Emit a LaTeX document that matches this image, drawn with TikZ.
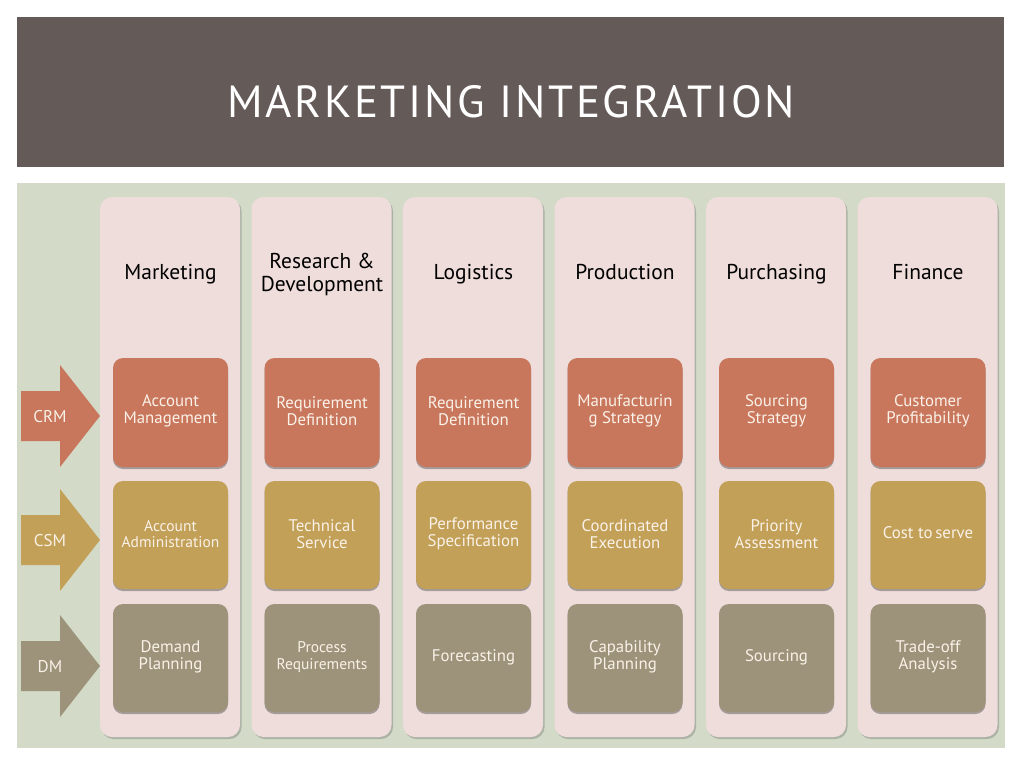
\documentclass[tikz,border=0pt]{standalone}
\usepackage{fontspec}
\setmainfont{PT Sans}
\newfontfamily\titlefont[LetterSpace=6]{PT Sans}
\usetikzlibrary{shadows}
\definecolor{hdr}{HTML}{645A58}
\definecolor{panel}{HTML}{D3DBC8}
\definecolor{colpink}{HTML}{EEDDDB}
\definecolor{rred}{HTML}{C9775C}
\definecolor{rgold}{HTML}{C2A057}
\definecolor{rgrey}{HTML}{9C937A}
\definecolor{btext}{HTML}{FAF1E8}
\tikzset{
  colbox/.style={fill=colpink, rounded corners=12pt,
    drop shadow={shadow xshift=1.5pt, shadow yshift=-2pt, opacity=0.35, fill=black!60}},
  cellbox/.style={rounded corners=10pt,
    drop shadow={shadow xshift=0pt, shadow yshift=-2pt, opacity=0.45, fill=black!70}},
  celltext/.style={text=btext, align=center, font=\fontsize{16.8}{17}\selectfont, inner sep=0pt},
  smalltext/.style={celltext, font=\fontsize{15.5}{16.5}\selectfont},
  headtext/.style={text=black, align=center, font=\fontsize{21.5}{23}\selectfont, inner sep=0pt},
  onehead/.style={headtext, text height=15pt, text depth=5pt},
  onecell/.style={celltext, text height=12pt, text depth=4pt},
  arrowtext/.style={text=btext, font=\fontsize{17}{18}\selectfont, inner sep=0pt, text height=12pt, text depth=0pt},
}
\begin{document}
\begin{tikzpicture}[x=1pt,y=-1pt]
\useasboundingbox (0,0) rectangle (1024,768);
\fill[white] (0,0) rectangle (1024,768);
% header
\fill[hdr] (17,17) rectangle (1004,167);
\node[text=white, font=\titlefont\fontsize{45}{50}\selectfont, inner sep=0pt] (title) at (511,102) {MARKETING INTEGRATION};
% panel
\fill[panel] (17,183) rectangle (1005,748);
% columns
\foreach \i/\name in {0/Marketing,2/Logistics,3/Production,4/Purchasing,5/Finance}{
  \pgfmathsetmacro{\cx}{100+151.5*\i}
  \path[colbox] (\cx,197) rectangle ++(140,540);
  \node[onehead] (head\i) at (\cx+70.5,274) {\name};
}
\path[colbox] (251.5,197) rectangle ++(140,540);
\node[headtext] (head1) at (322,274.5) {Research \&\\Development};
% arrows
\foreach \yc/\col/\lab in {416/rred/CRM,540/rgold/CSM,666/rgrey/DM}{
  \fill[\col] (21,\yc-25) -- (60,\yc-25) -- (60,\yc-51) -- (100,\yc) -- (60,\yc+51) -- (60,\yc+25) -- (21,\yc+25) -- cycle;
  \node[arrowtext] (arr\lab) at (50,\yc) {\lab};
}
% cells
\foreach \r/\yt/\col in {0/358/rred,1/481/rgold,2/604/rgrey}{
  \foreach \i in {0,...,5}{
    \pgfmathsetmacro{\cx}{113+151.5*\i}
    \path[cellbox, fill=\col] (\cx,\yt) rectangle ++(115,\ifnum\r=0 109\else 108\fi);
  }
}
% cell texts row 1
\node[celltext] (c00) at (170.5,411) {Account\\Management};
\node[celltext] (c01) at (322,411) {Requirement\\Definition};
\node[celltext] (c02) at (473.5,411) {Requirement\\Definition};
\node[celltext] (c03) at (625,411) {Manufacturin\\g Strategy};
\node[celltext] (c04) at (776.5,411) {Sourcing\\Strategy};
\node[celltext] (c05) at (928,411) {Customer\\Profitability};
% row 2
\node[smalltext] (c10) at (170.5,534) {Account\\Administration};
\node[celltext] (c11) at (322,534) {Technical\\Service};
\node[celltext] (c12) at (473.5,534) {Performance\\Specification};
\node[celltext] (c13) at (625,534) {Coordinated\\Execution};
\node[celltext] (c14) at (776.5,534) {Priority\\Assessment};
\node[onecell] (c15) at (928,534) {Cost to\,serve};
% row 3
\node[celltext] (c20) at (170.5,657) {Demand\\Planning};
\node[smalltext] (c21) at (322,657) {Process\\Requirements};
\node[onecell] (c22) at (473.5,657) {Forecasting};
\node[celltext] (c23) at (625,657) {Capability\\Planning};
\node[onecell] (c24) at (776.5,657) {Sourcing};
\node[celltext] (c25) at (928,657) {Trade-off\\Analysis};
\end{tikzpicture}
\end{document}
